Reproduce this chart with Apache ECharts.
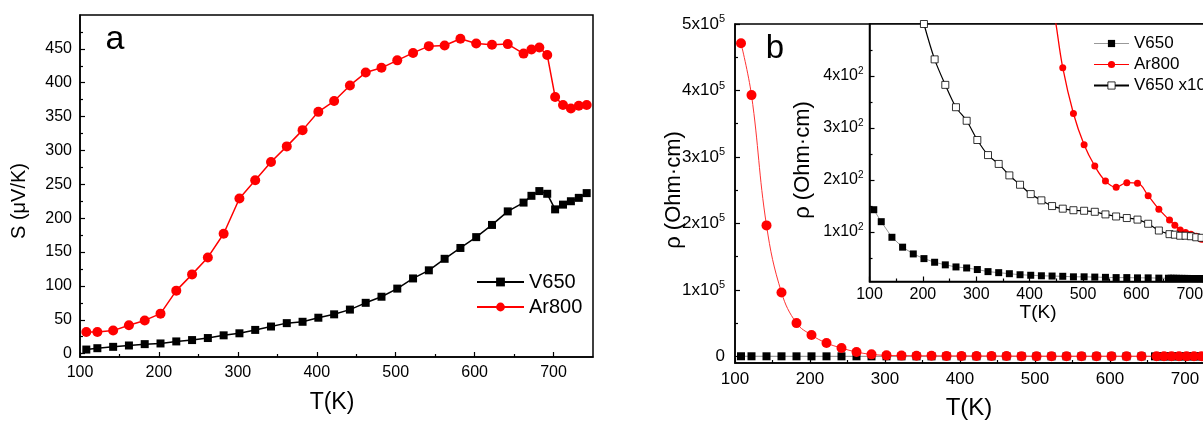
<!DOCTYPE html>
<html>
<head>
<meta charset="utf-8">
<script src="https://cdn.jsdelivr.net/npm/echarts@6/dist/echarts.min.js"></script>
<style>
html, body { margin: 0; padding: 0; background: #fff; }
#chart { width: 1203px; height: 421px; }
</style>
</head>
<body>
<div id="chart"></div>
<script>
// panel a: Seebeck coefficient (uV/K)
const tS = [108, 122, 142, 162, 182, 202, 222, 242, 262, 282, 302, 322, 342, 362, 382, 402, 422, 442, 462, 482,
  502, 522, 542, 562, 582, 602, 622, 642, 662, 672, 682, 692, 702, 712, 722, 732, 742];
const sV650 = [6, 8, 10, 12, 14, 15, 18, 20, 23, 27, 30, 35, 40, 45, 47, 53, 58, 65, 75, 84,
  96, 111, 123, 140, 156, 172, 190, 210, 223, 233, 240, 236, 213, 220, 225, 230, 237];
const sAr800 = [32, 32, 34, 42, 49, 59, 93, 117, 142, 177, 229, 256, 283, 306, 330, 357, 373, 396, 415, 422,
  433, 444, 454, 455, 465, 458, 456, 457, 443, 449, 452, 441, 379, 367, 362, 366, 367];

// panel b: resistivity (Ohm.cm)
const tR = tS;
const rAr800 = [471000, 393000, 197000, 96000, 50000, 32000, 20000, 12500, 6500, 3000, 1500, 1100, 900, 780, 700, 640, 600, 540, 416, 328,
  268, 227, 198, 186, 195, 194, 170, 144, 123, 113, 104, 99, 96, 92, 86, 80, 75];
const rV650x10 = [1430, 1200, 900, 710, 580, 500, 432, 383, 340, 314, 277, 248, 231, 209, 191, 173, 161, 150, 145, 142,
  141, 139, 134, 130, 127, 124, 116, 103, 96, 95, 93, 93, 92, 90, 89, 88, 87];
const tRV = [108, 122, 142, 162, 182, 202, 222, 242, 262, 282, 302, 322, 342, 362, 382, 402, 422, 442, 462, 482,
  502, 522, 542, 562, 582, 602, 622, 642, 660, 665, 670, 675, 680, 685, 690, 695, 700, 705,
  710, 715, 720, 725, 730, 735, 740, 745, 750];
const rV650 = [143, 120, 90, 71, 58, 49, 42, 37, 33, 31, 28, 24, 22, 20, 18, 17, 16, 15.5, 15, 14,
  14, 13.5, 13, 12.5, 12.5, 12, 12, 11.5, 11.3, 11.2, 11.2, 11.1, 11, 11, 10.9, 10.9, 10.8, 10.8,
  10.7, 10.7, 10.6, 10.6, 10.5, 10.5, 10.4, 10.4, 10.3];

// ticks
const ticksT = [100, 200, 300, 400, 500, 600, 700];
const minorT = [150, 250, 350, 450, 550, 650];
const ticksS = [0, 50, 100, 150, 200, 250, 300, 350, 400, 450];
const minorS = [25, 75, 125, 175, 225, 275, 325, 375, 425, 475];
const ticksRho = [0, 100000, 200000, 300000, 400000, 500000];
const minorRho = [50000, 150000, 250000, 350000, 450000];
const ticksInset = [100, 200, 300, 400];
const minorInset = [50, 150, 250, 350, 450];

const FONT = '"Liberation Sans", Arial, sans-serif';

function zip(xs, ys) {
  return xs.map((x, i) => [x, ys[i]]);
}

function mainAxis(grid, pos, min, max, ticks, label) {
  return {
    type: 'value', gridIndex: grid, position: pos, min: min, max: max,
    axisLine: { show: true, onZero: false, lineStyle: { color: '#000', width: 1.5 } },
    axisTick: { show: true, inside: true, length: 5, customValues: ticks, lineStyle: { color: '#000', width: 1.2 } },
    axisLabel: Object.assign({ customValues: ticks, color: '#000', fontFamily: FONT }, label),
    splitLine: { show: false }
  };
}

function minorAxis(grid, pos, min, max, ticks) {
  return {
    type: 'value', gridIndex: grid, position: pos, min: min, max: max,
    axisLine: { show: false, onZero: false },
    axisTick: { show: true, inside: true, length: 3, customValues: ticks, lineStyle: { color: '#000', width: 1.2 } },
    axisLabel: { show: false },
    splitLine: { show: false }
  };
}

const supRich = {
  b: { fontSize: 17, fontFamily: FONT, color: '#000' },
  s: { fontSize: 11, fontFamily: FONT, color: '#000', padding: [0, 0, 10, 0] }
};
const supRichInset = {
  b: { fontSize: 16, fontFamily: FONT, color: '#000' },
  s: { fontSize: 10, fontFamily: FONT, color: '#000', padding: [0, 0, 10, 0] }
};

function title(text, x, y, size, rotate) {
  return {
    type: 'text', x: x, y: y, rotation: rotate ? Math.PI / 2 : 0,
    style: { text: text, fill: '#000', font: size + 'px ' + FONT, align: 'center', verticalAlign: 'middle' }
  };
}

const gridBase = { show: true, borderColor: '#000', borderWidth: 1.5, outerBoundsMode: 'none', containLabel: false };

const chart = echarts.init(document.getElementById('chart'));
chart.setOption({
  animation: false,
  backgroundColor: '#fff',
  grid: [
    Object.assign({ left: 80, top: 15, width: 513, height: 342, backgroundColor: 'transparent' }, gridBase),
    Object.assign({ left: 735, top: 24, width: 487.5, height: 339, backgroundColor: 'transparent' }, gridBase),
    Object.assign({ left: 869.5, top: 24, width: 347, height: 257.5, backgroundColor: '#fff' }, gridBase)
  ],
  xAxis: [
    mainAxis(0, 'bottom', 100, 750, ticksT, { fontSize: 16, margin: 8 }),
    minorAxis(0, 'bottom', 100, 750, minorT),
    mainAxis(1, 'bottom', 100, 750, ticksT, { fontSize: 17, margin: 8 }),
    minorAxis(1, 'bottom', 100, 750, minorT),
    mainAxis(2, 'bottom', 100, 750, ticksT, { fontSize: 16, margin: 5 }),
    minorAxis(2, 'bottom', 100, 750, minorT)
  ],
  yAxis: [
    mainAxis(0, 'left', -5, 500, ticksS, { fontSize: 16, margin: 8 }),
    minorAxis(0, 'left', -5, 500, minorS),
    mainAxis(1, 'left', -10000, 500000, ticksRho, {
      margin: 10, rich: supRich,
      formatter: v => v === 0 ? '{b|0}' : '{b|' + (v / 100000) + 'x10}{s|5}'
    }),
    minorAxis(1, 'left', -10000, 500000, minorRho),
    mainAxis(2, 'left', 5, 500, ticksInset, {
      margin: 6, rich: supRichInset,
      formatter: v => '{b|' + (v / 100) + 'x10}{s|2}'
    }),
    minorAxis(2, 'left', 5, 500, minorInset)
  ],
  legend: [
    {
      left: 476, top: 272, orient: 'vertical', padding: 0, itemGap: 5,
      itemWidth: 47, itemHeight: 11, selectedMode: false,
      textStyle: { fontSize: 20, lineHeight: 20, fontFamily: FONT, color: '#000' },
      data: ['V650', 'Ar800']
    },
    {
      left: 1093, top: 35, orient: 'vertical', padding: 0, itemGap: 4,
      itemWidth: 35, itemHeight: 9, selectedMode: false,
      textStyle: { fontSize: 17, lineHeight: 16, fontFamily: FONT, color: '#000' },
      data: [
        { name: 'V650', lineStyle: { color: '#999', width: 1 } },
        { name: 'Ar800', lineStyle: { color: '#f00', width: 1 } },
        { name: 'V650 x10', itemStyle: { borderWidth: 0.8 } }
      ]
    }
  ],
  graphic: [
    title('S (\u03bcV/K)', 19, 201, 20, true),
    title('T(K)', 332, 403, 23, false),
    title('a', 115, 40, 34, false),
    title('\u03c1 (Ohm\u00b7cm)', 674, 190, 22, true),
    title('T(K)', 969, 408, 24, false),
    title('b', 775, 49, 33, false),
    title('\u03c1 (Ohm\u00b7cm)', 803, 160, 22, true),
    title('T(K)', 1038, 313, 19, false)
  ],
  series: [
    {
      name: 'V650', type: 'line', xAxisIndex: 0, yAxisIndex: 0, data: zip(tS, sV650),
      symbol: 'rect', symbolSize: 8, itemStyle: { color: '#000' }, lineStyle: { color: '#000', width: 1.5 }
    },
    {
      name: 'Ar800', type: 'line', xAxisIndex: 0, yAxisIndex: 0, data: zip(tS, sAr800),
      symbol: 'circle', symbolSize: 10, itemStyle: { color: '#f00' }, lineStyle: { color: '#f00', width: 1.5 }
    },
    {
      name: 'V650', type: 'line', xAxisIndex: 2, yAxisIndex: 2, data: zip(tRV, rV650),
      symbol: 'rect', symbolSize: 8, itemStyle: { color: '#000' }, lineStyle: { color: '#888', width: 1 }
    },
    {
      name: 'Ar800', type: 'line', xAxisIndex: 2, yAxisIndex: 2, data: zip(tR, rAr800), smooth: 0.4,
      symbol: 'circle', symbolSize: 10, itemStyle: { color: '#f00' }, lineStyle: { color: '#f33', width: 1 }
    },
    {
      name: 'V650', type: 'line', xAxisIndex: 4, yAxisIndex: 4, data: zip(tRV, rV650), clip: true,
      symbol: 'rect', symbolSize: 7, itemStyle: { color: '#000' }, lineStyle: { color: '#999', width: 1 }
    },
    {
      name: 'Ar800', type: 'line', xAxisIndex: 4, yAxisIndex: 4, data: zip(tR, rAr800), clip: true, smooth: 0.4,
      symbol: 'circle', symbolSize: 7, itemStyle: { color: '#f00' }, lineStyle: { color: '#f00', width: 1.3 }
    },
    {
      name: 'V650 x10', type: 'line', xAxisIndex: 4, yAxisIndex: 4, data: zip(tR, rV650x10), clip: true, smooth: 0.3,
      symbol: 'rect', symbolSize: 7, itemStyle: { color: '#fff', borderColor: '#000', borderWidth: 0.8 },
      lineStyle: { color: '#000', width: 1.2 }
    }
  ]
});
</script>
</body>
</html>
